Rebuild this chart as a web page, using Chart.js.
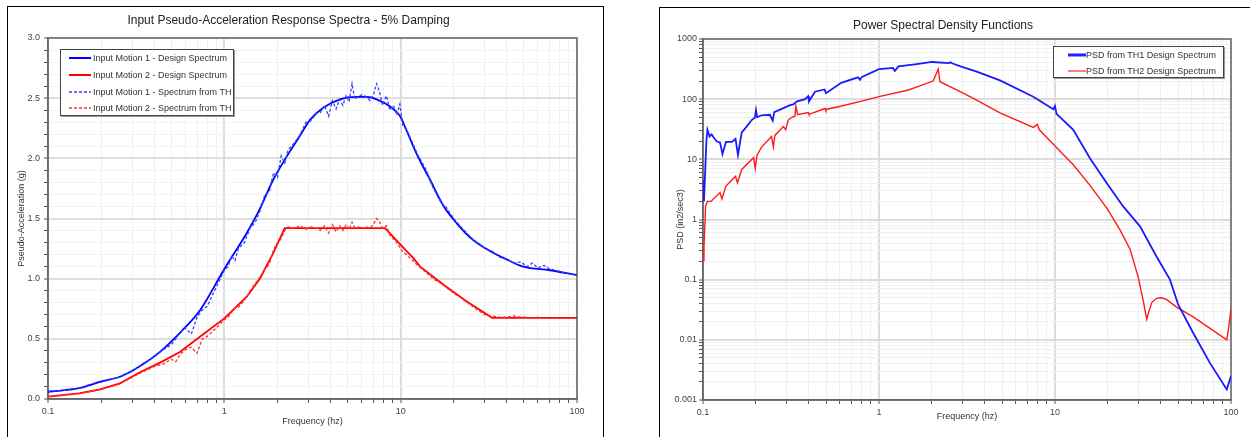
<!DOCTYPE html>
<html>
<head>
<meta charset="utf-8">
<script src="https://cdn.jsdelivr.net/npm/chart.js@4.4.1/dist/chart.umd.min.js"></script>
<style>
  body { margin: 0; width: 1250px; height: 437px; overflow: hidden; background: #fff; font-family: "Liberation Sans", Arial, sans-serif; }
  .frame { position: absolute; border: 1px solid #000; box-sizing: border-box; }
  #box1 { left: 7px; top: 6px; width: 597px; height: 460px; }
  #box2 { left: 659px; top: 7px; width: 640px; height: 460px; }
  .wrap { position: absolute; top: 0; height: 437px; }
  #w1 { left: 0; width: 610px; }
  #w2 { left: 655px; width: 606px; }
  .legend { position: absolute; box-sizing: border-box; border: 1px solid #444; box-shadow: 1px 1px 0 #999; background: #fff; font-size: 9px; color: #333; }
  .legend svg { position: absolute; left: 0; top: 0; }
  .legend span { position: absolute; white-space: nowrap; line-height: 10px; }
</style>
</head>
<body>
<div class="frame" id="box1"></div>
<div class="frame" id="box2"></div>
<div class="wrap" id="w1"><canvas id="rsChart" width="610" height="437"></canvas></div>
<div class="wrap" id="w2"><canvas id="psdChart" width="606" height="437"></canvas></div>

<div class="legend" style="left:60px;top:49px;width:174px;height:67px;">
  <svg width="40" height="67">
    <line x1="8" y1="8" x2="30" y2="8" stroke="#0000ff" stroke-width="2"/>
    <line x1="8" y1="25" x2="30" y2="25" stroke="#ff0000" stroke-width="2"/>
    <line x1="8" y1="42" x2="30" y2="42" stroke="#3344ff" stroke-width="1.5" stroke-dasharray="3,2"/>
    <line x1="8" y1="58" x2="30" y2="58" stroke="#ff3333" stroke-width="1.5" stroke-dasharray="3,2"/>
  </svg>
  <span style="left:32px;top:3px;">Input Motion 1 - Design Spectrum</span>
  <span style="left:32px;top:20px;">Input Motion 2 - Design Spectrum</span>
  <span style="left:32px;top:37px;">Input Motion 1 - Spectrum from TH</span>
  <span style="left:32px;top:53px;">Input Motion 2 - Spectrum from TH</span>
</div>

<div class="legend" style="left:1053px;top:46px;width:171px;height:32px;">
  <svg width="40" height="32">
    <line x1="14" y1="8" x2="32" y2="8" stroke="#2222ff" stroke-width="3"/>
    <line x1="14" y1="24" x2="32" y2="24" stroke="#ff0000" stroke-width="1"/>
  </svg>
  <span style="left:32px;top:3px;">PSD from TH1 Design Spectrum</span>
  <span style="left:32px;top:19px;">PSD from TH2 Design Spectrum</span>
</div>

<script>
// ---- Response spectra (left) ----
const freqDesign1 = [0.1, 0.15, 0.2, 0.256, 0.33, 0.43, 0.56, 0.73, 1.0, 1.34, 1.59, 1.89, 2.36, 2.69, 3.06, 3.64, 4.53, 5.63, 6.42, 7.31, 8.7, 9.93, 10.6, 12.3, 14.7, 17.4, 20.8, 25.8, 32.1, 39.9, 49.6, 70.3, 100];
const motion1Design = [0.06, 0.09, 0.145, 0.185, 0.27, 0.39, 0.55, 0.74, 1.08, 1.38, 1.58, 1.82, 2.06, 2.19, 2.32, 2.42, 2.49, 2.51, 2.51, 2.49, 2.43, 2.35, 2.26, 2.04, 1.82, 1.61, 1.46, 1.32, 1.23, 1.16, 1.10, 1.07, 1.03];

const freqDesign2 = [0.1, 0.15, 0.197, 0.256, 0.33, 0.43, 0.56, 0.73, 1.0, 1.34, 1.59, 1.89, 2.2, 8.16, 10, 11.8, 12.9, 17.5, 23.7, 33, 100];
const motion2Design = [0.02, 0.047, 0.08, 0.13, 0.22, 0.30, 0.39, 0.52, 0.67, 0.85, 1.0, 1.21, 1.42, 1.42, 1.28, 1.17, 1.10, 0.95, 0.81, 0.675, 0.675];

const freqTH = [0.1, 0.12, 0.15, 0.18, 0.2, 0.25, 0.3, 0.35, 0.4, 0.45, 0.5, 0.53, 0.56, 0.6, 0.65, 0.7, 0.75, 0.8, 0.9, 1.0, 1.05, 1.1, 1.15, 1.2, 1.3, 1.4, 1.5, 1.6, 1.7, 1.8, 1.9, 2.0, 2.1, 2.2, 2.3, 2.5, 2.7, 2.9, 3.1, 3.3, 3.5, 3.7, 3.9, 4.1, 4.3, 4.5, 4.7, 4.9, 5.1, 5.3, 5.5, 5.8, 6.1, 6.4, 6.7, 7.0, 7.3, 7.6, 7.9, 8.3, 8.7, 9.1, 9.5, 9.9, 10.3, 10.8, 11.5, 12.5, 14, 15, 16, 17, 18, 20, 22, 24, 26, 28, 30, 33, 36, 40, 44, 48, 52, 56, 60, 65, 70, 75, 80, 90, 100];
const motion1TH = [0.065, 0.07, 0.09, 0.13, 0.15, 0.18, 0.23, 0.30, 0.35, 0.41, 0.45, 0.50, 0.55, 0.59, 0.54, 0.68, 0.74, 0.77, 0.93, 1.07, 1.10, 1.19, 1.15, 1.25, 1.30, 1.42, 1.47, 1.57, 1.70, 1.72, 1.88, 1.84, 2.02, 1.96, 2.07, 2.13, 2.20, 2.30, 2.31, 2.37, 2.38, 2.44, 2.35, 2.48, 2.41, 2.49, 2.44, 2.52, 2.47, 2.62, 2.49, 2.52, 2.53, 2.51, 2.48, 2.53, 2.62, 2.55, 2.44, 2.52, 2.40, 2.44, 2.36, 2.45, 2.27, 2.24, 2.15, 2.03, 1.90, 1.78, 1.70, 1.63, 1.60, 1.50, 1.43, 1.37, 1.32, 1.29, 1.25, 1.23, 1.18, 1.16, 1.13, 1.14, 1.10, 1.13, 1.09, 1.11, 1.08, 1.07, 1.06, 1.04, 1.03];
const motion2TH = [0.02, 0.03, 0.045, 0.065, 0.08, 0.12, 0.18, 0.23, 0.27, 0.29, 0.33, 0.31, 0.37, 0.41, 0.43, 0.38, 0.50, 0.52, 0.59, 0.66, 0.68, 0.72, 0.76, 0.76, 0.82, 0.90, 0.96, 1.02, 1.08, 1.12, 1.24, 1.30, 1.33, 1.40, 1.43, 1.42, 1.44, 1.41, 1.43, 1.42, 1.40, 1.44, 1.38, 1.45, 1.39, 1.44, 1.40, 1.45, 1.41, 1.47, 1.42, 1.43, 1.42, 1.43, 1.42, 1.45, 1.50, 1.47, 1.42, 1.44, 1.36, 1.33, 1.30, 1.26, 1.22, 1.20, 1.16, 1.11, 1.05, 1.01, 0.98, 0.96, 0.93, 0.88, 0.84, 0.80, 0.76, 0.73, 0.70, 0.69, 0.68, 0.68, 0.69, 0.68, 0.68, 0.67, 0.68, 0.67, 0.67, 0.67, 0.67, 0.67, 0.67];

// ---- Power spectral density (right) ----
const psdFreq1 = [0.1, 0.1013, 0.1045, 0.106, 0.109, 0.112, 0.115, 0.1196, 0.125, 0.129, 0.135, 0.146, 0.153, 0.158, 0.166, 0.177, 0.189, 0.197, 0.2, 0.203, 0.215, 0.24, 0.249, 0.254, 0.28, 0.31, 0.326, 0.34, 0.38, 0.396, 0.4, 0.433, 0.49, 0.5, 0.61, 0.76, 0.78, 0.8, 1.0, 1.2, 1.23, 1.29, 1.6, 2.0, 2.5, 2.55, 2.6, 2.88, 3.59, 4.87, 7.53, 9.78, 10, 10.2, 12.7, 15.8, 19.7, 24.4, 30.4, 37.8, 45, 50.2, 61, 76, 94.6, 100];
const psdTH1 = [4.5, 2.0, 20, 31, 24, 26, 23, 20, 19, 12.3, 19.5, 19.5, 22, 11.8, 28, 35, 45, 49, 66, 50, 54, 55, 44, 61, 69, 79, 82, 91, 100, 112, 92, 133, 145, 126, 187, 230, 210, 235, 316, 330, 295, 350, 380, 415, 398, 410, 395, 355, 287, 205, 110, 68, 77, 57, 31, 10.4, 4.0, 1.65, 0.77, 0.24, 0.1, 0.038, 0.013, 0.0041, 0.0015, 0.0025];

const psdFreq2 = [0.1, 0.1013, 0.1035, 0.106, 0.111, 0.125, 0.128, 0.135, 0.153, 0.157, 0.166, 0.194, 0.198, 0.2026, 0.215, 0.245, 0.251, 0.256, 0.286, 0.295, 0.305, 0.319, 0.333, 0.337, 0.345, 0.396, 0.4, 0.494, 0.499, 0.505, 0.613, 0.797, 1.0, 1.47, 2.03, 2.17, 2.22, 2.95, 3.5, 4.87, 7.53, 7.94, 8.15, 10, 12.7, 15.8, 19.7, 23.4, 26.7, 29.7, 31.8, 33.2, 34.2, 35.5, 37.8, 40, 43, 49, 61, 76, 94.6, 97, 100];
const psdTH2 = [0.21, 0.35, 1.7, 2.0, 2.0, 2.8, 2.2, 3.6, 5.2, 4.1, 6.8, 10.7, 7.0, 11.7, 16, 24, 16, 25, 35, 31, 45, 50, 52, 77, 55, 60, 56, 70, 65, 68, 77, 93, 110, 142, 200, 316, 195, 130, 100, 59, 34, 38, 31, 16.7, 8.1, 3.7, 1.55, 0.67, 0.32, 0.11, 0.043, 0.022, 0.03, 0.042, 0.049, 0.05, 0.047, 0.035, 0.024, 0.0155, 0.010, 0.016, 0.033];

Chart.defaults.font.family = '"Liberation Sans", Arial, sans-serif';
Chart.defaults.color = '#333';

const points = (xs, ys) => xs.map((x, i) => ({ x: x, y: ys[i] }));

const isDecade = v => Math.abs(Math.log10(v) - Math.round(Math.log10(v))) < 1e-6;
const decadeLabel = v => {
  const e = Math.round(Math.log10(v));
  return e < 0 ? Math.pow(10, e).toFixed(-e) : String(Math.pow(10, e));
};
const logTicks = (lo, hi) => {
  const t = [];
  for (let e = lo; e < hi; e++) {
    for (let k = 1; k < 10; k++) t.push({ value: k * Math.pow(10, e) });
  }
  t.push({ value: Math.pow(10, hi) });
  return t;
};

const logGrid = {
  color: c => (c.tick && isDecade(c.tick.value)) ? '#dcdcdc' : '#f0f0f0',
  lineWidth: c => (c.tick && isDecade(c.tick.value)) ? 2 : 1,
  tickColor: '#555',
  tickLength: 4,
  tickWidth: 1
};

const plotFrame = {
  id: 'plotFrame',
  beforeDatasetsDraw(chart) {
    const { ctx, chartArea: a } = chart;
    ctx.save();
    ctx.strokeStyle = '#666';
    ctx.lineWidth = 1.5;
    ctx.strokeRect(a.left, a.top, a.right - a.left, a.bottom - a.top);
    ctx.restore();
  }
};

const axisFont = { size: 9 };

new Chart(document.getElementById('rsChart'), {
  type: 'line',
  data: {
    datasets: [
      {
        label: 'Input Motion 1 - Spectrum from TH',
        data: points(freqTH, motion1TH),
        borderColor: '#3344ff',
        borderWidth: 1.3,
        borderDash: [3, 2],
        pointRadius: 0,
        order: 1
      },
      {
        label: 'Input Motion 2 - Spectrum from TH',
        data: points(freqTH, motion2TH),
        borderColor: '#ff3333',
        borderWidth: 1.3,
        borderDash: [3, 2],
        pointRadius: 0,
        order: 1
      },
      {
        label: 'Input Motion 1 - Design Spectrum',
        data: points(freqDesign1, motion1Design),
        borderColor: '#0000ff',
        borderWidth: 1.8,
        cubicInterpolationMode: 'monotone',
        pointRadius: 0,
        order: 2
      },
      {
        label: 'Input Motion 2 - Design Spectrum',
        data: points(freqDesign2, motion2Design),
        borderColor: '#ff0000',
        borderWidth: 1.8,
        pointRadius: 0,
        order: 2
      }
    ]
  },
  options: {
    responsive: false,
    animation: false,
    layout: { padding: { left: 0, right: 33, top: 0, bottom: 0 } },
    plugins: {
      legend: { display: false },
      tooltip: { enabled: false },
      title: {
        display: true,
        text: 'Input Pseudo-Acceleration Response Spectra - 5% Damping',
        color: '#222',
        font: { size: 12, weight: 'normal' },
        padding: { top: 13.5, bottom: 10.1 }
      }
    },
    scales: {
      x: {
        type: 'logarithmic',
        min: 0.1,
        max: 100,
        afterBuildTicks: s => { s.ticks = logTicks(-1, 2); },
        afterFit: s => { s.height = 38; },
        ticks: {
          autoSkip: false,
          maxRotation: 0,
          padding: 3,
          font: axisFont,
          color: '#444',
          callback: v => isDecade(v) ? decadeLabel(v) : ''
        },
        grid: logGrid,
        border: { color: '#666', width: 1.5 },
        title: { display: true, text: 'Frequency (hz)', font: axisFont, color: '#333', padding: { top: 0, bottom: 9.6 } }
      },
      y: {
        type: 'linear',
        min: 0,
        max: 3,
        afterBuildTicks: s => {
          const t = [];
          for (let i = 0; i <= 30; i++) t.push({ value: i / 10 });
          s.ticks = t;
        },
        afterFit: s => { s.width = 48; },
        ticks: {
          autoSkip: false,
          padding: 4,
          font: axisFont,
          color: '#444',
          callback: (v, i) => i % 5 === 0 ? v.toFixed(1) : ''
        },
        grid: {
          color: c => (c.tick && c.index % 5 === 0) ? '#dedede' : '#f2f2f2',
          lineWidth: c => (c.tick && c.index % 5 === 0) ? 2 : 1,
          tickColor: '#555',
          tickLength: 4,
          tickWidth: 1
        },
        border: { color: '#666', width: 1.5 },
        title: { display: true, text: 'Pseudo-Acceleration (g)', font: axisFont, color: '#333', padding: { top: 16.6, bottom: 0 } }
      }
    }
  },
  plugins: [plotFrame]
});

new Chart(document.getElementById('psdChart'), {
  type: 'line',
  data: {
    datasets: [
      {
        label: 'PSD from TH1 Design Spectrum',
        data: points(psdFreq1, psdTH1),
        borderColor: '#1a1aff',
        borderWidth: 1.8,
        pointRadius: 0
      },
      {
        label: 'PSD from TH2 Design Spectrum',
        data: points(psdFreq2, psdTH2),
        borderColor: '#ff1a1a',
        borderWidth: 1.4,
        pointRadius: 0
      }
    ]
  },
  options: {
    responsive: false,
    animation: false,
    layout: { padding: { left: 0, right: 30, top: 0, bottom: 0 } },
    plugins: {
      legend: { display: false },
      tooltip: { enabled: false },
      title: {
        display: true,
        text: 'Power Spectral Density Functions',
        color: '#222',
        font: { size: 12, weight: 'normal' },
        padding: { top: 18.8, bottom: 5.8 }
      }
    },
    scales: {
      x: {
        type: 'logarithmic',
        min: 0.1,
        max: 100,
        afterBuildTicks: s => { s.ticks = logTicks(-1, 2); },
        afterFit: s => { s.height = 37; },
        ticks: {
          autoSkip: false,
          maxRotation: 0,
          padding: 3,
          font: axisFont,
          color: '#444',
          callback: v => isDecade(v) ? decadeLabel(v) : ''
        },
        grid: logGrid,
        border: { color: '#666', width: 1.5 },
        title: { display: true, text: 'Frequency (hz)', font: axisFont, color: '#333', padding: { top: 0, bottom: 14.6 } }
      },
      y: {
        type: 'logarithmic',
        min: 0.001,
        max: 1000,
        afterBuildTicks: s => { s.ticks = logTicks(-3, 3); },
        afterFit: s => { s.width = 48; },
        ticks: {
          autoSkip: false,
          padding: 2,
          font: axisFont,
          color: '#444',
          callback: v => isDecade(v) ? decadeLabel(v) : ''
        },
        grid: logGrid,
        border: { color: '#666', width: 1.5 },
        title: { display: true, text: 'PSD (in2/sec3)', font: axisFont, color: '#333', padding: { top: 20.6, bottom: 0 } }
      }
    }
  },
  plugins: [plotFrame]
});
</script>
</body>
</html>
